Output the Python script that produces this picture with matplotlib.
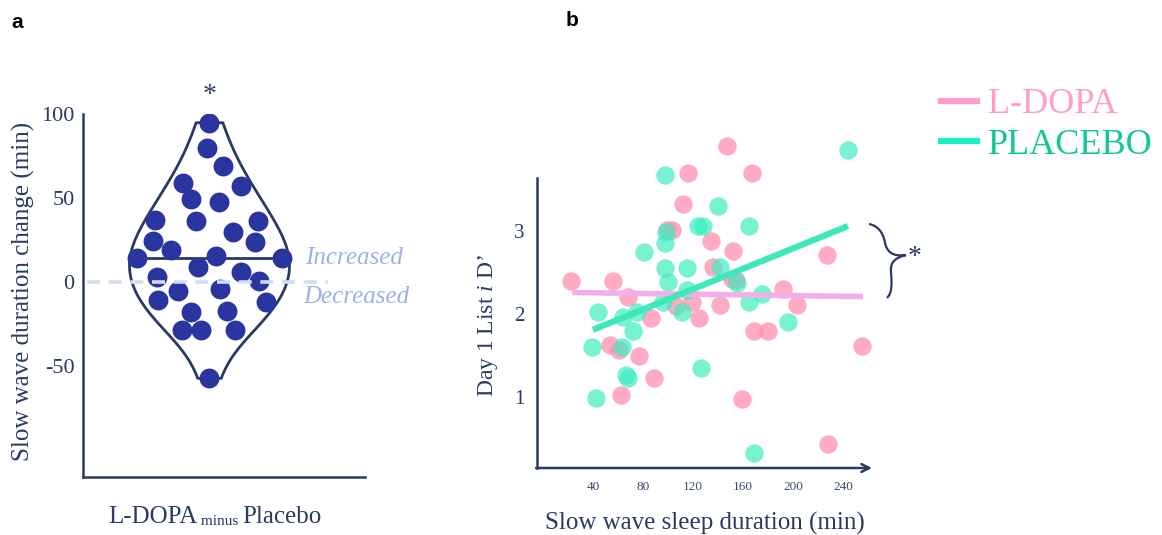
import numpy as np
import matplotlib
matplotlib.use("Agg")
import matplotlib.pyplot as plt
from matplotlib.lines import Line2D
from matplotlib.path import Path
from matplotlib.patches import PathPatch

plt.rcParams['font.family'] = ['Liberation Serif', 'DejaVu Serif']
plt.rcParams['mathtext.fontset'] = 'custom'
plt.rcParams['mathtext.rm'] = 'Liberation Serif'
plt.rcParams['mathtext.it'] = 'Liberation Serif:italic'

NAVY = '#2b3a63'
DOT = '#2b35a0'

# ---- panel a: change in slow wave duration (L-DOPA minus placebo), min
swd_change = [94.8, 79.6, 69.0, 58.8, 57.1, 49.4, 47.4, 36.9, 36.3, 36.5,
              29.9, 24.6, 24.0, 19.0, 14.1, 15.7, 14.1, 8.7, 5.8, 2.8,
              0.6, -5.2, -4.4, -10.7, -11.7, -17.7, -17.3, -28.6, -28.6,
              -28.6, -57.3]
swd_jitter = [-0.2, -2.2, 13.2, -26.8, 31.2, -18.8, 9.8, -54.5, -13.8, 48.8,
              23.2, -56.8, 45.5, -38.8, -72.8, 6.2, 72.2, -11.8, 31.2, -52.8,
              49.8, -31.8, 10.5, -51.2, 56.5, -18.8, 17.8, -27.8, -8.5, 25.5,
              -0.5]
a_ticks = [-50, 0, 50, 100]

# ---- panel b: SWS duration vs Day 1 List i D'
ldopa_sws = [22.4, 56.3, 68.3, 86.4, 53.6, 61, 77, 89, 62, 147, 115.7, 167,
             112, 99, 103, 134, 152, 136, 151, 154, 227, 192, 203, 106, 119,
             125, 141.6, 169, 180, 255, 159, 228]
ldopa_d = [2.40, 2.40, 2.20, 1.95, 1.63, 1.57, 1.49, 1.23, 1.02, 4.02, 3.70,
           3.70, 3.33, 3.01, 3.01, 2.88, 2.76, 2.57, 2.42, 2.41, 2.71, 2.30,
           2.11, 2.10, 2.15, 1.95, 2.11, 1.79, 1.79, 1.61, 0.98, 0.44]
placebo_sws = [97.6, 244, 140, 124, 128, 165, 98, 97.6, 81, 97.6, 115, 141.6,
               100, 115, 155, 175.5, 165, 96, 111, 44, 64, 75, 72, 196, 39, 63,
               66.4, 68.3, 126, 42.4, 169]
placebo_d = [3.67, 3.98, 3.30, 3.06, 3.06, 3.06, 2.99, 2.86, 2.75, 2.55, 2.55,
             2.57, 2.38, 2.29, 2.37, 2.24, 2.15, 2.15, 2.02, 2.02, 1.96, 2.02,
             1.79, 1.90, 1.60, 1.60, 1.26, 1.23, 1.35, 0.99, 0.32]
ldopa_fit_x = [23.4, 256]
ldopa_fit_y = [2.26, 2.21]
placebo_fit_x = [40, 244]
placebo_fit_y = [1.81, 3.06]
b_xticks = [40, 80, 120, 160, 200, 240]
b_yticks = [1, 2, 3]

W, H = 1162, 535
fig = plt.figure(figsize=(W / 100, H / 100), dpi=100)


def px_axes(x0, y0, x1, y1):
    # pixel box (top-left origin) -> figure axes
    return fig.add_axes([x0 / W, 1 - y1 / H, (x1 - x0) / W, (y1 - y0) / H])


# ================= panel a =================
ax = px_axes(83, 114, 365, 477)
ax.set_xlim(-126.5, 155.5)
ax.set_ylim(-116, 100)

parts = ax.violinplot([swd_change], positions=[0], widths=160,
                      showextrema=False)
body = parts['bodies'][0]
body.set_facecolor('none')
body.set_edgecolor(NAVY)
body.set_linewidth(2)
body.set_alpha(1)

med = np.median(swd_change)
verts = body.get_paths()[0].vertices
right = verts[verts[:, 0] > 0]
order = np.argsort(right[:, 1])
half = np.interp(med, right[order, 1], right[order, 0])
ax.plot([-half, half], [med, med], color=NAVY, lw=2, zorder=3)

ax.scatter(swd_jitter, swd_change, s=205, color=DOT, zorder=4,
           linewidths=0)
ax.plot([-122.5, 118.5], [0, 0], color='#d3ddf2', lw=2.6,
        linestyle=(0, (3.6, 2.4)), zorder=5, clip_on=False)

ax.text(95.5, 14.3, 'Increased', style='italic', color='#9db2e3',
        fontsize=18, va='center', ha='left', clip_on=False)
ax.text(93.5, -8.9, 'Decreased', style='italic', color='#9db2e3',
        fontsize=18, va='center', ha='left', clip_on=False)
ax.text(0, 111, '*', color=NAVY, fontsize=20, ha='center', va='center',
        clip_on=False)

for s in ['top', 'right']:
    ax.spines[s].set_visible(False)
for s in ['left', 'bottom']:
    ax.spines[s].set_color(NAVY)
    ax.spines[s].set_linewidth(1.8)
ax.set_xticks([])
ax.set_yticks(a_ticks)
ax.set_yticklabels([str(t) for t in a_ticks])
ax.tick_params(axis='y', length=0, pad=6, labelsize=16, labelcolor=NAVY)
ax.set_ylabel('Slow wave duration change (min)', fontsize=18, color=NAVY)
ax.yaxis.set_label_coords(-0.17, 0.51)

t1 = ax.text(108 / W, 1 - 517 / H, 'L-DOPA', transform=fig.transFigure,
             fontsize=18, color=NAVY, ha='left', va='center')
t2 = ax.annotate(' minus ', xy=(1, 0), xycoords=t1, fontsize=11,
                 color=NAVY, ha='left', va='bottom')
ax.annotate('Placebo', xy=(1, 0), xycoords=t2, fontsize=18, color=NAVY,
            ha='left', va='bottom')

fig.text(17 / W, 1 - 22 / H, 'a', fontsize=15, fontweight='bold',
         family='Liberation Sans', ha='center', va='center')
fig.text(572 / W, 1 - 20 / H, 'b', fontsize=15, fontweight='bold',
         family='Liberation Sans', ha='center', va='center')

# ================= panel b =================
bx = px_axes(537, 130, 872, 468)
bx.set_xlim(-4.8, 263.2)
bx.set_ylim(0.145, 4.217)

bx.scatter(ldopa_sws, ldopa_d, s=175, color='#ff8fb1', alpha=0.75,
           linewidths=0, zorder=2, clip_on=False)
bx.scatter(placebo_sws, placebo_d, s=175, color='#3deec0', alpha=0.7,
           linewidths=0, zorder=2, clip_on=False)
bx.plot(ldopa_fit_x, ldopa_fit_y, color='#f2aee8', lw=4, zorder=3,
        solid_capstyle='butt')
bx.plot(placebo_fit_x, placebo_fit_y, color='#3ee8b8', lw=4.5, zorder=3,
        solid_capstyle='butt')

for s in ['top', 'right', 'bottom']:
    bx.spines[s].set_visible(False)
bx.spines['left'].set_color(NAVY)
bx.spines['left'].set_linewidth(1.8)
bx.spines['left'].set_bounds(0.145, 3.64)
bx.annotate('', xy=(1.0, 0), xytext=(-0.003, 0), xycoords='axes fraction',
            arrowprops=dict(arrowstyle='->', color=NAVY, lw=1.8,
                            mutation_scale=14, shrinkA=0, shrinkB=0))

bx.set_xticks(b_xticks)
bx.set_xticklabels([str(t) for t in b_xticks])
bx.set_yticks(b_yticks)
bx.set_yticklabels([str(t) for t in b_yticks])
bx.tick_params(axis='x', length=0, pad=9, labelsize=9.5, labelcolor='#3a4a6b')
bx.tick_params(axis='y', length=0, pad=9, labelsize=15, labelcolor=NAVY)
bx.set_xlabel('Slow wave sleep duration (min)', fontsize=18, color=NAVY)
bx.xaxis.set_label_coords(0.5, -0.13)
bx.set_ylabel("Day 1 List $\\mathit{i}$ D\u2019", fontsize=17, color=NAVY)
bx.yaxis.set_label_coords(-0.11, 0.42)

# brace and star for the slope difference
pts = [(869, 224), (880, 226), (884, 236), (885, 243),
       (887, 252), (893, 257), (906, 255),
       (895, 258), (890, 262), (891, 272),
       (892, 285), (892, 293), (887, 298)]
codes = [Path.MOVETO] + [Path.CURVE4] * 12
brace = Path([(x / W, 1 - y / H) for x, y in pts], codes)
fig.add_artist(PathPatch(brace, transform=fig.transFigure, fill=False,
                         edgecolor=NAVY, lw=1.6))
fig.text(915 / W, 1 - 258 / H, '*', fontsize=20, color=NAVY,
         ha='center', va='center')

handles = [Line2D([], [], color='#ff9ec8', lw=4.5),
           Line2D([], [], color='#19f0c4', lw=4.5)]
leg = fig.legend(handles, ['L-DOPA', 'PLACEBO'], loc='upper left',
                 bbox_to_anchor=(941 / W, 1 - 88 / H), frameon=False,
                 fontsize=26, handlelength=1.0, handletextpad=0.3,
                 labelspacing=0.2, borderpad=0, borderaxespad=0)
for txt, c in zip(leg.get_texts(), ['#ff9ec8', '#10c896']):
    txt.set_color(c)

fig.savefig('out.png', dpi=100)
